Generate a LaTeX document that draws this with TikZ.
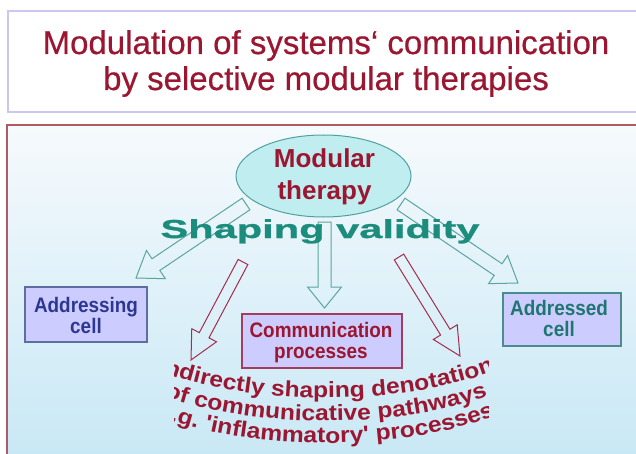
\documentclass[tikz,border=0pt]{standalone}
\usepackage{fontspec}
\setmainfont{Liberation Sans}
\newfontfamily\titlefont[FakeBold=0.5]{Liberation Sans}
\newfontfamily\narrowfont[FakeStretch=0.9]{Liberation Sans}
\newfontfamily\widefont[FakeStretch=1.6,FakeBold=1]{Liberation Sans}
\newfontfamily\curvefont[FakeStretch=1.12]{Liberation Sans}
\usetikzlibrary{calc,shapes.geometric,decorations.text}
\definecolor{tred}{RGB}{155,22,48}
\definecolor{tealtxt}{RGB}{28,140,125}
\definecolor{navytxt}{RGB}{45,55,145}
\definecolor{addtxt}{RGB}{30,118,112}
\definecolor{lav}{RGB}{204,204,255}
\definecolor{titleborder}{RGB}{200,200,240}
\definecolor{panelborder}{RGB}{175,90,100}
\definecolor{paneltop}{RGB}{246,250,253}
\definecolor{panelbot}{RGB}{200,232,245}
\definecolor{ellfill}{RGB}{192,238,240}
\definecolor{ellline}{RGB}{80,160,160}
\definecolor{tealarrow}{RGB}{90,165,160}
\definecolor{redarrow}{RGB}{165,45,75}
\definecolor{addrborder}{RGB}{95,110,160}
\definecolor{addedborder}{RGB}{75,140,140}
\definecolor{commborder}{RGB}{165,60,95}
\newcommand\curvefmt{\curvefont\bfseries\fontsize{22}{22}\selectfont\color{tred}}
% block arrow: #1 from, #2 to, #3 shaft half width, #4 head half width, #5 head length, #6 style
\newcommand\blockarrow[6]{%
 \draw[#6] let \p1=(#1), \p2=(#2), \n1={atan2(\y2-\y1,\x2-\x1)}, \n2={veclen(\x2-\x1,\y2-\y1)} in
 ({\x1-(#3)*sin(\n1)},{\y1+(#3)*cos(\n1)}) --
 ({\x1+(\n2-#5)*cos(\n1)-(#3)*sin(\n1)},{\y1+(\n2-#5)*sin(\n1)+(#3)*cos(\n1)}) --
 ({\x1+(\n2-#5)*cos(\n1)-(#4)*sin(\n1)},{\y1+(\n2-#5)*sin(\n1)+(#4)*cos(\n1)}) --
 (\x2,\y2) --
 ({\x1+(\n2-#5)*cos(\n1)+(#4)*sin(\n1)},{\y1+(\n2-#5)*sin(\n1)-(#4)*cos(\n1)}) --
 ({\x1+(\n2-#5)*cos(\n1)+(#3)*sin(\n1)},{\y1+(\n2-#5)*sin(\n1)-(#3)*cos(\n1)}) --
 ({\x1+(#3)*sin(\n1)},{\y1-(#3)*cos(\n1)}) -- cycle;}
\begin{document}
\begin{tikzpicture}[x=1pt,y=-1pt,
  titletext/.style={anchor=base, inner sep=0, text=tred, font=\titlefont\fontsize{33}{33}\selectfont},
  boxs/.style={draw, fill=lav, line width=1.1pt, inner sep=0},
  lbl/.style={anchor=base, inner sep=0, font=\narrowfont\bfseries\fontsize{21}{21}\selectfont},
  therapylbl/.style={anchor=base, inner sep=0, text=tred, font=\bfseries\fontsize{26}{26}\selectfont},
  tealarr/.style={draw=tealarrow, line width=1pt},
  redarr/.style={draw=redarrow, line width=1pt},
  curved/.style={decorate, decoration={text along path, text align=center, text={#1}}}
]
\useasboundingbox (0,0) rectangle (636,454);
\fill[white] (0,0) rectangle (636,454);
% title box
\node[draw=titleborder, line width=2pt, fill=white, minimum width=632, minimum height=101, inner sep=0] (titlebox) at (324,61.5) {};
\node[titletext] (t1) at (326,54) {Modulation of systems‘ communication};
\node[titletext] (t2) at (326,90) {by selective modular therapies};
% panel
\shade[top color=paneltop, bottom color=panelbot] (7,125) rectangle (642,460);
\draw[panelborder, line width=1.5pt] (642,125) -- (7,125) -- (7,460);
% ellipse
\node[ellipse, draw=ellline, fill=ellfill, line width=1pt, minimum width=175, minimum height=82, inner sep=0] (therapy) at (323.5,176) {};
\node[therapylbl] (mod) at (324.5,168) {Modular};
\node[therapylbl] (ther) at (324.5,200) {therapy};
% boxes
\node[boxs, draw=addrborder, minimum width=122, minimum height=55] (addressing) at (86,314.5) {};
\node[lbl, text=navytxt] (addr1) at (86,312) {Addressing};
\node[lbl, text=navytxt] (addr2) at (86,333) {cell};
\node[boxs, draw=addedborder, minimum width=118, minimum height=53] (addressed) at (562,319.5) {};
\node[lbl, text=addtxt] (add1) at (559,315) {Addressed};
\node[lbl, text=addtxt] (add2) at (559,336) {cell};
\node[boxs, draw=commborder, minimum width=160, minimum height=54] (comm) at (322,341) {};
\node[lbl, text=tred] (comm1) at (321,337) {Communication};
\node[lbl, text=tred] (comm2) at (321,358) {processes};
% arrow end points
\coordinate (lt0) at (246,204); \coordinate (lt1) at (136,278);
\coordinate (ct0) at (324.5,222); \coordinate (ct1) at (324.5,308);
\coordinate (rt0) at (401,204); \coordinate (rt1) at (518,283);
\coordinate (lr0) at (243,262); \coordinate (lr1) at (191,360);
\coordinate (rr0) at (399,257); \coordinate (rr1) at (460,356);
\blockarrow{lt0}{lt1}{7}{17}{24}{tealarr}
\blockarrow{ct0}{ct1}{6.5}{17}{21}{tealarr}
\blockarrow{rt0}{rt1}{7}{17}{24}{tealarr}
\blockarrow{lr0}{lr1}{5.5}{14}{28}{redarr}
\blockarrow{rr0}{rr1}{5.5}{14}{28}{redarr}
% shaping validity
\node[anchor=base, inner sep=0, text=tealtxt, font=\widefont\bfseries\fontsize{26}{26}\selectfont] (shaping) at (320,238) {Shaping validity};
% curved text
\begin{scope}
\clip (174,340) rectangle (488,454);
\path[curved={|\curvefmt|Indirectly shaping denotation}] (140,363.6) .. controls (240,409.4) and (412,409.4) .. (512,363.6);
\path[curved={|\curvefmt|of communicative pathways}] (140,386.6) .. controls (240,432.4) and (412,432.4) .. (512,386.6);
\path[curved={|\curvefmt|e.g. 'inflammatory' processes}] (140,408.6) .. controls (240,454.4) and (412,454.4) .. (512,408.6);
\end{scope}
\end{tikzpicture}
\end{document}
